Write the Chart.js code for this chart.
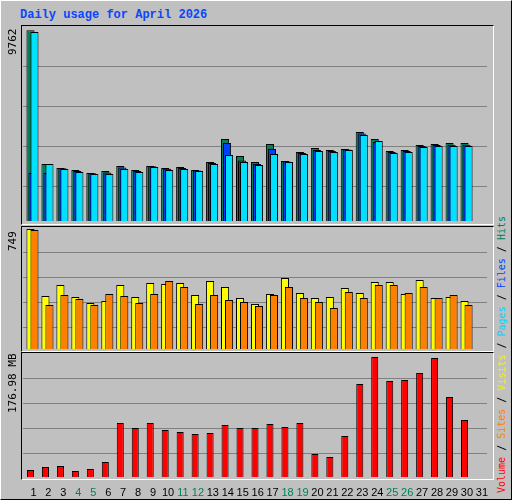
<!DOCTYPE html>
<html lang="en">
<head>
<meta charset="UTF-8">
<title>Daily usage for April 2026</title>
<style>
body { margin: 0; background: #c0c0c0; }
#frame { position: relative; width: 510px; height: 498px; background: #c0c0c0;
  border-top: 1px solid #ffffff; border-left: 1px solid #ffffff;
  border-right: 1px solid #000; border-bottom: 1px solid #000; overflow: hidden; }
.plot { position: absolute; left: 20px; width: 471px; border-top: 1px solid #000; border-left: 1px solid #000;
  border-right: 1px solid #fff; border-bottom: 1px solid #fff; }
canvas { position: absolute; }
#title { position: absolute; left: 19px; top: 7px; font: bold 12px "Liberation Mono", monospace; color: #0a46ff; }
.ylab { position: absolute; font: 11px "DejaVu Sans Mono", monospace; transform-origin: left top;
  transform: rotate(-90deg); white-space: nowrap; }
#legend { position: absolute; left: 495px; top: 492px; font: 10px "DejaVu Sans Mono", monospace;
  transform-origin: left top; transform: rotate(-90deg); white-space: nowrap; }
</style>
</head>
<body>
<div id="frame">
  <div id="title">Daily usage for April 2026</div>
  <div class="plot" style="top:24px;height:198px"></div>
  <div class="plot" style="top:225px;height:124px"></div>
  <div class="plot" style="top:351px;height:126px"></div>
  <!-- each series gets its own layer, shifted a couple of pixels, like the 3D webalizer bars -->
  <canvas id="hitsC" width="468" height="195" style="left:22px;top:25px"></canvas>
  <canvas id="filesC" width="464" height="195" style="left:24px;top:25px"></canvas>
  <canvas id="pagesC" width="464" height="195" style="left:26px;top:25px"></canvas>
  <canvas id="visitsC" width="468" height="122" style="left:22px;top:226px"></canvas>
  <canvas id="sitesC" width="464" height="122" style="left:26px;top:226px"></canvas>
  <canvas id="volC" width="468" height="124" style="left:22px;top:352px"></canvas>
  <canvas id="daysC" width="464" height="40" style="left:25px;top:455px"></canvas>
  <div class="ylab" style="left:5px;top:54px">9762</div>
  <div class="ylab" style="left:5px;top:250px">749</div>
  <div class="ylab" style="left:5px;top:412px">176.98 MB</div>
  <div id="legend"><span style="color:#ff0000">Volume</span> / <span style="color:#ff8000">Sites</span> / <span style="color:#f0f000">Visits</span> / <span style="color:#00d0ff">Pages</span> / <span style="color:#0040ff">Files</span> / <span style="color:#00805c">Hits</span></div>
</div>
<script src="https://cdn.jsdelivr.net/npm/chart.js"></script>
<script>
const days = ['1','2','3','4','5','6','7','8','9','10','11','12','13','14','15','16','17','18','19','20','21','22','23','24','25','26','27','28','29','30','31'];
const weekend = ['4','5','11','12','18','19','25','26'];
const hits = [9762,2918,2714,2611,2458,2560,2816,2611,2816,2714,2765,2611,3021,4198,3328,3021,3942,3072,3533,3738,3635,3686,4557,4198,3584,3635,3891,3942,3994,3994,0];
const files = [2458,2458,2700,2560,2440,2480,2740,2560,2800,2680,2720,2590,2970,3994,3100,2920,3686,3050,3480,3640,3580,3660,4480,4045,3530,3580,3840,3890,3900,3900,0];
const pages = [9677,2918,2662,2509,2406,2406,2662,2509,2765,2611,2662,2560,2918,3379,3021,2867,3430,3021,3430,3584,3533,3635,4403,4096,3482,3533,3789,3840,3840,3840,0];
const visits = [749,331,399,324,287,300,399,324,412,406,412,337,424,387,318,281,343,443,349,318,324,381,349,418,418,343,431,318,324,300,0];
const sites = [743,275,337,312,275,343,331,287,343,424,387,281,337,306,293,268,337,387,318,293,256,356,318,399,399,349,387,318,337,275,0];
const volumeMB = [10.3,14.7,16.2,8.8,11.8,22.1,79.6,72.3,79.6,69.3,66.4,63.4,64.9,76.7,72.3,72.3,78.2,73.7,79.6,33.9,29.5,60.5,137.2,176.98,141.6,143.1,153.4,175.5,118.0,84.1,0];

function yScale(max, step, grid) {
  return {
    display: grid,
    min: 0, max: max,
    ticks: { display: false },
    border: { display: false },
    grid: { color: '#808080', lineWidth: 1, drawTicks: false },
    afterBuildTicks: axis => {
      const t = [];
      for (let k = 1; k <= 4; k++) t.push({ value: max - k * step });
      axis.ticks = t;
    }
  };
}
const xHidden = { display: false };

function layer(id, data, color, max, step, grid, width) {
  // the grid layers are 4px wider so the lines reach the panel edge
  const pad = grid ? 4 : 0;
  new Chart(document.getElementById(id), {
    type: 'bar',
    data: { labels: days, datasets: [{ data: data, backgroundColor: color, borderColor: '#000', borderWidth: 1, borderSkipped: 'bottom' }] },
    options: {
      responsive: false, animation: false,
      layout: { padding: { left: 0, right: pad, top: 0, bottom: 0 } },
      categoryPercentage: 1, barPercentage: width,
      plugins: { legend: { display: false }, tooltip: { enabled: false } },
      scales: { x: xHidden, y: yScale(max, step, grid) }
    }
  });
}

layer('hitsC', hits, '#00805c', 9984, 2048, true, 0.54);
layer('filesC', files, '#0040ff', 9984, 2048, false, 0.54);
layer('pagesC', pages, '#00e0ff', 9984, 2048, false, 0.54);
layer('visitsC', visits, '#ffff00', 761, 156, true, 0.54);
layer('sitesC', sites, '#ff8000', 761, 156, false, 0.54);
layer('volC', volumeMB, '#ff0000', 182.9, 36.9, true, 0.47);

// day numbers under the bottom panel
new Chart(document.getElementById('daysC'), {
  type: 'bar',
  data: { labels: days, datasets: [{ data: days.map(() => 0), backgroundColor: 'rgba(0,0,0,0)', borderWidth: 0 }] },
  options: {
    responsive: false, animation: false,
    layout: { padding: 0 },
    plugins: { legend: { display: false }, tooltip: { enabled: false } },
    scales: {
      y: { display: false },
      x: {
        grid: { display: false }, border: { display: false },
        ticks: {
          maxRotation: 0, autoSkip: false, padding: 2,
          color: ctx => weekend.includes(days[ctx.index]) ? '#00805c' : '#000000',
          font: { family: 'Liberation Sans', size: 11 }
        }
      }
    }
  }
});
</script>
</body>
</html>
